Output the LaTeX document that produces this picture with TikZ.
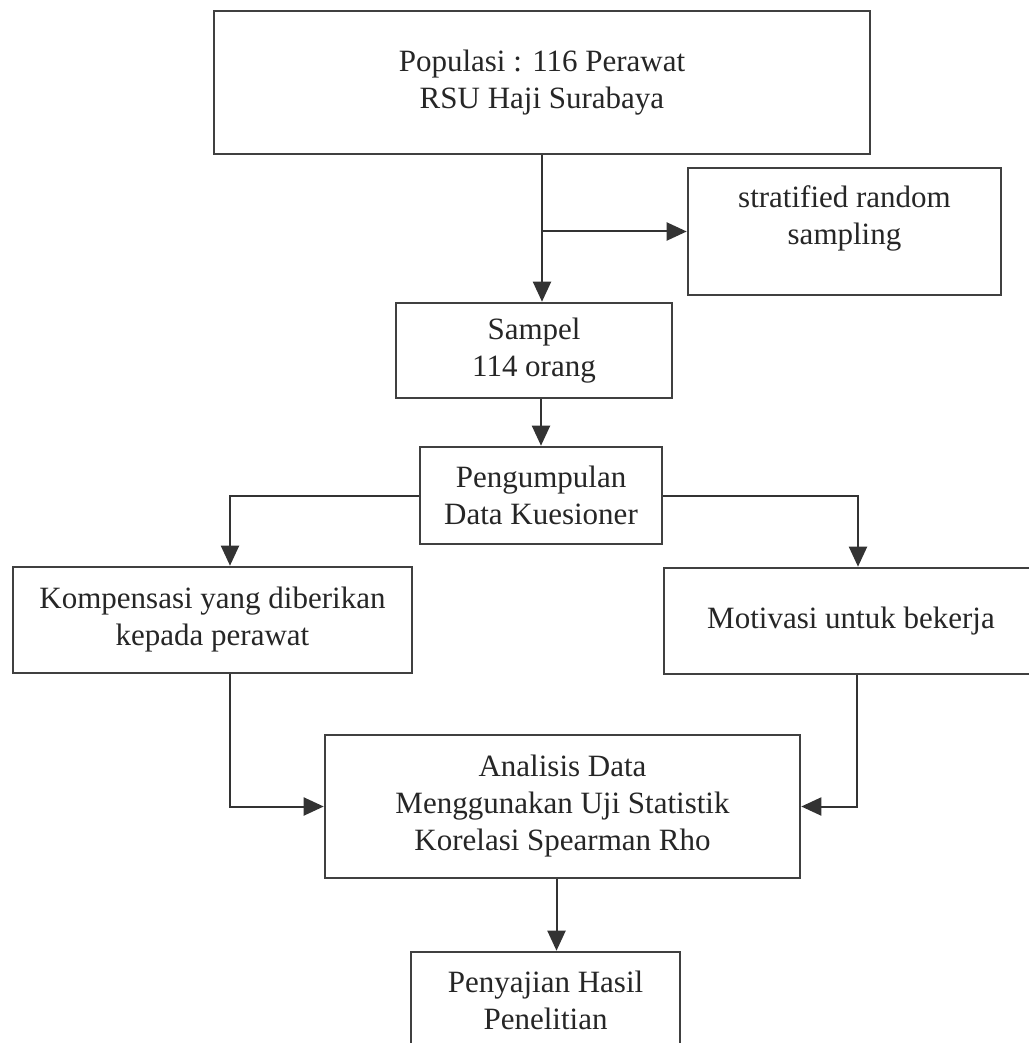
\documentclass[tikz,border=0pt]{standalone}
\usepackage{fontspec}
\setmainfont{Liberation Serif}
\usetikzlibrary{
    positioning,
    arrows.meta,
    calc
}

\begin{document}
\begin{tikzpicture}[
    x=0.5pt, y=-0.5pt,
    font=\fontsize{15.5}{18.5}\selectfont,
    flowbox/.style={
        rectangle, draw=black!75, line width=1.3pt, fill=white,
        align=center, text=black!85, inner sep=2pt
    },
    arr/.style={-{Triangle[length=10pt,width=9pt]}, draw=black!80, line width=1pt}
]
\useasboundingbox (0,0) rectangle (1028,1043);

% Population and sampling
\node[flowbox, minimum width=328pt, minimum height=71.5pt] (pop) at (542,82.5)
    {Populasi : 116 Perawat\\RSU Haji Surabaya};
\node[flowbox, minimum width=156.5pt, minimum height=63.5pt, text depth=16pt] (strat) at (844.5,231.5)
    {stratified random\\sampling};
\node[flowbox, minimum width=138pt, minimum height=47.5pt] (sampel) at (534,350.5)
    {Sampel\\114 orang};
\node[flowbox, minimum width=121pt, minimum height=48.5pt] (kumpul) at (541,495.5)
    {Pengumpulan\\Data Kuesioner};

% Variables
\node[flowbox, minimum width=199.5pt, minimum height=53pt] (komp) at (212.5,620)
    {Kompensasi yang diberikan\\kepada perawat};
\node[flowbox, minimum width=187pt, minimum height=53pt] (motiv) at (851,621)
    {Motivasi untuk bekerja};

% Analysis and result
\node[flowbox, minimum width=237.5pt, minimum height=71.5pt] (analisis) at (562.5,806.5)
    {Analisis Data\\Menggunakan Uji Statistik\\Korelasi Spearman Rho};
\node[flowbox, minimum width=134.5pt, minimum height=48pt] (saji) at (545.5,1000)
    {Penyajian Hasil\\Penelitian};

% ------------------------------- Arrows --------------------------------------
\draw[arr] (pop.south) -- (pop.south |- sampel.north);
\draw[arr] (pop.south |- strat.west) -- (strat.west);
\draw[arr] (sampel.south -| kumpul.north) -- (kumpul.north);

\draw[arr] (kumpul.west) -| ([xshift=8.75pt]komp.north);
\draw[arr] (kumpul.east) -| ([xshift=3.5pt]motiv.north);

\draw[arr] ([xshift=8.5pt]komp.south) |- (analisis.west);
\draw[arr] ([xshift=3pt]motiv.south) |- (analisis.east);
\draw[arr] ([xshift=-3pt]analisis.south) -- ([xshift=-3pt]analisis.south |- saji.north);

\end{tikzpicture}
\end{document}
